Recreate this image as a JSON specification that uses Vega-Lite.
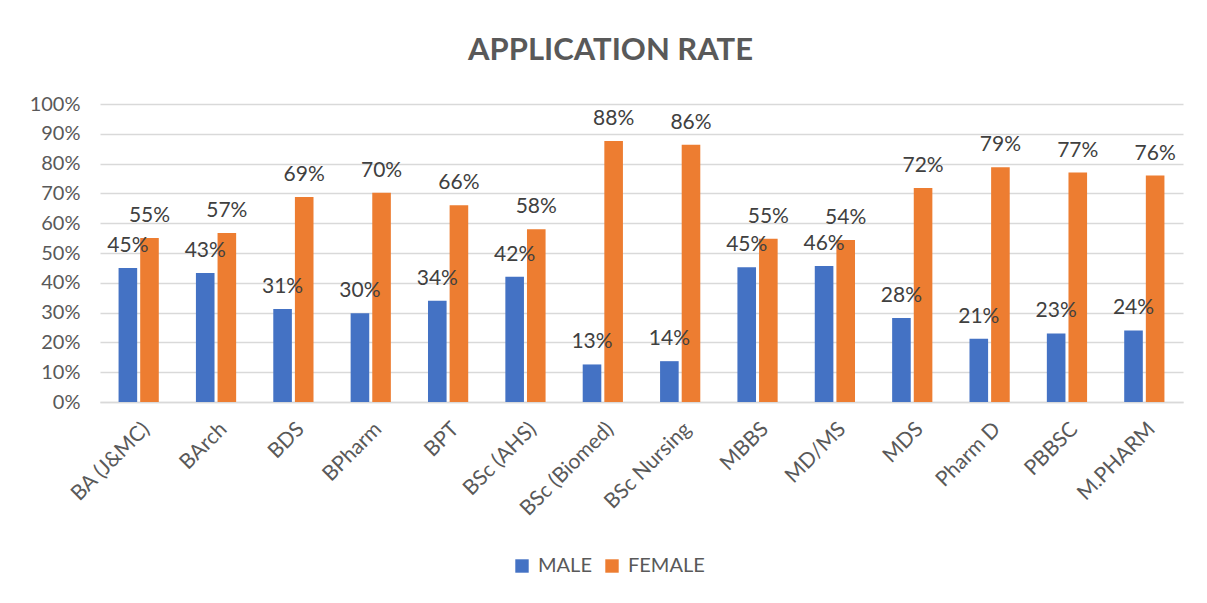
{
  "$schema": "https://vega.github.io/schema/vega-lite/v6.json",
  "width": 1083,
  "height": 298,
  "autosize": {"type": "none"},
  "padding": {"left": 100, "top": 104, "right": 24, "bottom": 201},
  "background": "white",
  "title": {
    "text": "APPLICATION RATE",
    "font": "Lato",
    "fontSize": 31,
    "fontWeight": "bold",
    "color": "#595959",
    "anchor": "middle",
    "dx": -31,
    "offset": 27
  },
  "data": {
    "values": [
      {"program": "BA (J&MC)", "gender": "MALE", "rate": 0.45},
      {"program": "BA (J&MC)", "gender": "FEMALE", "rate": 0.55},
      {"program": "BArch", "gender": "MALE", "rate": 0.433},
      {"program": "BArch", "gender": "FEMALE", "rate": 0.567},
      {"program": "BDS", "gender": "MALE", "rate": 0.312},
      {"program": "BDS", "gender": "FEMALE", "rate": 0.688},
      {"program": "BPharm", "gender": "MALE", "rate": 0.298},
      {"program": "BPharm", "gender": "FEMALE", "rate": 0.702},
      {"program": "BPT", "gender": "MALE", "rate": 0.34},
      {"program": "BPT", "gender": "FEMALE", "rate": 0.66},
      {"program": "BSc (AHS)", "gender": "MALE", "rate": 0.42},
      {"program": "BSc (AHS)", "gender": "FEMALE", "rate": 0.58},
      {"program": "BSc (Biomed)", "gender": "MALE", "rate": 0.126},
      {"program": "BSc (Biomed)", "gender": "FEMALE", "rate": 0.876},
      {"program": "BSc Nursing", "gender": "MALE", "rate": 0.137},
      {"program": "BSc Nursing", "gender": "FEMALE", "rate": 0.863},
      {"program": "MBBS", "gender": "MALE", "rate": 0.452},
      {"program": "MBBS", "gender": "FEMALE", "rate": 0.548},
      {"program": "MD/MS", "gender": "MALE", "rate": 0.456},
      {"program": "MD/MS", "gender": "FEMALE", "rate": 0.544},
      {"program": "MDS", "gender": "MALE", "rate": 0.282},
      {"program": "MDS", "gender": "FEMALE", "rate": 0.718},
      {"program": "Pharm D", "gender": "MALE", "rate": 0.212},
      {"program": "Pharm D", "gender": "FEMALE", "rate": 0.788},
      {"program": "PBBSC", "gender": "MALE", "rate": 0.23},
      {"program": "PBBSC", "gender": "FEMALE", "rate": 0.77},
      {"program": "M.PHARM", "gender": "MALE", "rate": 0.24},
      {"program": "M.PHARM", "gender": "FEMALE", "rate": 0.76}
    ]
  },
  "encoding": {
    "x": {
      "field": "program",
      "type": "nominal",
      "sort": null,
      "title": null,
      "scale": {"paddingInner": 0.48, "paddingOuter": 0.24},
      "axis": {
        "labelAngle": -45,
        "labelFont": "Lato",
        "labelFontSize": 21,
        "labelColor": "#595959",
        "labelPadding": 16,
        "labelOverlap": false,
        "ticks": false,
        "domainColor": "#d9d9d9",
        "domainWidth": 1.5
      }
    },
    "xOffset": {
      "field": "gender",
      "type": "nominal",
      "sort": ["MALE", "FEMALE"],
      "scale": {"paddingInner": 0.14}
    },
    "y": {
      "field": "rate",
      "type": "quantitative",
      "title": null,
      "scale": {"domain": [0, 1]},
      "axis": {
        "format": ".0%",
        "values": [0, 0.1, 0.2, 0.3, 0.4, 0.5, 0.6, 0.7, 0.8, 0.9, 1],
        "labelOverlap": false,
        "labelFont": "Lato",
        "labelFontSize": 20,
        "labelColor": "#595959",
        "labelPadding": 20,
        "ticks": false,
        "domain": false,
        "gridColor": "#d9d9d9",
        "gridWidth": 1.5
      }
    }
  },
  "layer": [
    {
      "mark": {"type": "bar"},
      "encoding": {
        "color": {
          "field": "gender",
          "type": "nominal",
          "sort": ["MALE", "FEMALE"],
          "scale": {"domain": ["MALE", "FEMALE"], "range": ["#4472C4", "#ED7D31"]},
          "legend": {
            "title": null,
            "orient": "none",
            "direction": "horizontal",
            "legendX": 412,
            "legendY": 452,
            "symbolType": "square",
            "symbolSize": 180,
            "symbolStrokeWidth": 0,
            "labelFont": "Lato",
            "labelFontSize": 20,
            "labelColor": "#595959",
            "columnPadding": 10,
            "labelOffset": 6
          }
        }
      }
    },
    {
      "mark": {
        "type": "text",
        "baseline": "alphabetic",
        "dy": -16,
        "font": "Lato",
        "fontSize": 21,
        "color": "#404040"
      },
      "encoding": {
        "text": {"field": "rate", "type": "quantitative", "format": ".0%"}
      }
    }
  ],
  "config": {
    "view": {"stroke": null}
  }
}
